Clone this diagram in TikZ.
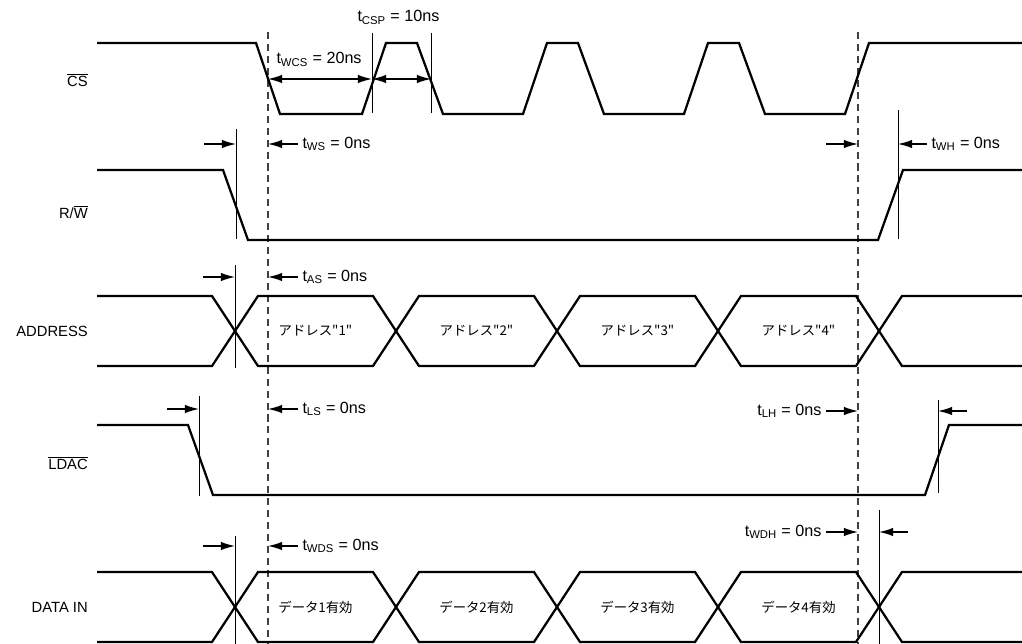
\documentclass[tikz,border=0pt]{standalone}
\usepackage{fontspec}
\setmainfont{Liberation Sans}
\newfontfamily\jpfont{Noto Sans CJK JP}
\usetikzlibrary{arrows.meta}

\tikzset{
  wave/.style={line width=1.6pt},
  tickline/.style={line width=0.6pt},
  guide/.style={line width=0.9pt,black!75,dash pattern=on 5pt off 3.5pt},
  dimarr/.style={line width=1pt,-{Latex[length=10pt,width=6pt]}},
  dimboth/.style={line width=1pt,{Latex[length=10pt,width=6pt]}-{Latex[length=10pt,width=6pt]}},
  siglabel/.style={anchor=east,inner sep=0pt,font=\fontsize{10.5}{12}\selectfont},
  tlabel/.style={inner sep=3pt,font=\fontsize{11.5}{13}\selectfont},
  buslabel/.style={inner sep=0pt,font=\jpfont\fontsize{9.5}{11}\selectfont}
}

\begin{document}
\begin{tikzpicture}[x=0.025cm,y=-0.025cm]
   \useasboundingbox (0,0) rectangle (1022,644);

   %% Namen
   \node[siglabel] (cs)   at (88,80)  {$\overline{\mbox{CS}}$};
   \node[siglabel] (rw)   at (88,212) {R/$\overline{\mbox{W}}$};
   \node[siglabel] (addr) at (88,331) {ADDRESS};
   \node[siglabel] (ldac) at (88,463) {$\overline{\mbox{LDAC}}$};
   \node[siglabel] (din)  at (88,607) {DATA IN};

   %% Hilfslinien
   \coordinate (dA) at (268,32);
   \coordinate (dB) at (858,32);
   \draw[guide] (dA) -- (268,644);
   \draw[guide] (dB) -- (858,644);

   %% CS
   \draw[wave] (97,43) -- (256,43) -- (280,114) -- (362,114) -- (386,43)
      -- (417,43) -- (443,114) -- (523,114) -- (547,43) -- (578,43)
      -- (604,114) -- (684,114) -- (708,43) -- (739,43) -- (765,114)
      -- (845,114) -- (869,43) -- (1022,43);
   \draw[tickline] (372,33) -- (372,113);
   \draw[tickline] (431,33) -- (431,113);
   \draw[dimboth] (268,79) -- (372,79);
   \draw[dimboth] (372,79) -- (431,79);
   \node[tlabel,anchor=base west] (twcs) at (272,64) {t\textsubscript{WCS} = 20ns};
   \node[tlabel,anchor=base west] (tcsp) at (353,22) {t\textsubscript{CSP} = 10ns};

   %% R/W
   \draw[wave] (97,170) -- (223,170) -- (248,240) -- (878,240) -- (903,170) -- (1022,170);
   \draw[tickline] (236,129) -- (236,239);
   \draw[tickline] (898,110) -- (898,239);
   \draw[dimarr] (204,144) -- (236,144);
   \draw[dimarr] (826,144) -- (858,144);
   \node[tlabel,anchor=west] (tws) at (298,144) {t\textsubscript{WS} = 0ns};
   \node[tlabel,anchor=west] (twh) at (927,144) {t\textsubscript{WH} = 0ns};
   \draw[dimarr] (tws.west) -- (tws.west -| dA);
   \draw[dimarr] (twh.west) -- (898,144);

   %% Busse
   \foreach \t/\m/\b/\w in {296/331/366/adr,572/607/642/dat} {
     \draw[wave] (97,\t) -- (212,\t) -- (235,\m) -- (212,\b) -- (97,\b);
     \draw[wave] (1022,\t) -- (902,\t) -- (879,\m) -- (902,\b) -- (1022,\b);
     \foreach \c [count=\k, remember=\c as \p (initially 235)] in {396,557,718,879} {
       \draw[wave] (\p,\m) -- (\p+23,\t) -- (\c-23,\t) -- (\c,\m)
          -- (\c-23,\b) -- (\p+23,\b) -- cycle;
       \node[buslabel] (\w\k) at ({(\p+\c)/2},\m)
          {\ifnum\m=331 アドレス"\k"\else データ\k 有効\fi};
     }
   }

   %% ADDRESS
   \draw[tickline] (235,265) -- (235,368);
   \draw[dimarr] (203,277) -- (235,277);
   \node[tlabel,anchor=west] (tas) at (298,277) {t\textsubscript{AS} = 0ns};
   \draw[dimarr] (tas.west) -- (tas.west -| dA);

   %% LDAC
   \draw[wave] (97,425) -- (188,425) -- (213,495) -- (925,495) -- (949,425) -- (1022,425);
   \draw[tickline] (199,396) -- (199,496);
   \draw[tickline] (938,400) -- (938,493);
   \draw[dimarr] (167,409) -- (199,409);
   \draw[dimarr] (967,411) -- (938,411);
   \node[tlabel,anchor=west] (tls) at (298,409) {t\textsubscript{LS} = 0ns};
   \node[tlabel,anchor=east] (tlh) at (826,411) {t\textsubscript{LH} = 0ns};
   \draw[dimarr] (tls.west) -- (tls.west -| dA);
   \draw[dimarr] (tlh.east) -- (tlh.east -| dB);

   %% DATA IN
   \draw[tickline] (235,536) -- (235,644);
   \draw[tickline] (879,510) -- (879,644);
   \draw[dimarr] (203,546) -- (235,546);
   \draw[dimarr] (908,532) -- (879,532);
   \node[tlabel,anchor=west] (twds) at (298,546) {t\textsubscript{WDS} = 0ns};
   \node[tlabel,anchor=east] (twdh) at (826,532) {t\textsubscript{WDH} = 0ns};
   \draw[dimarr] (twds.west) -- (twds.west -| dA);
   \draw[dimarr] (twdh.east) -- (twdh.east -| dB);
\end{tikzpicture}
\end{document}
